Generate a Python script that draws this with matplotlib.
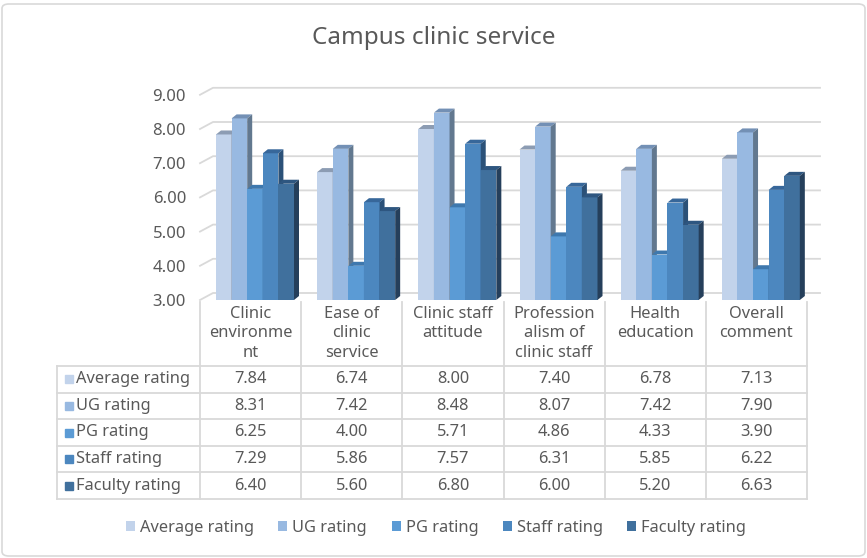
import matplotlib
matplotlib.use("Agg")
import matplotlib.pyplot as plt
from matplotlib.patches import Polygon, FancyBboxPatch, Patch
from matplotlib.transforms import blended_transform_factory
from matplotlib.lines import Line2D

# ---------------- data ----------------
categories = ["Clinic\nenvironme\nnt", "Ease of\nclinic\nservice", "Clinic staff\nattitude",
              "Profession\nalism of\nclinic staff", "Health\neducation", "Overall\ncomment"]
series_names = ["Average rating", "UG rating", "PG rating", "Staff rating", "Faculty rating"]
average_rating = [7.84, 6.74, 8.00, 7.40, 6.78, 7.13]
ug_rating = [8.31, 7.42, 8.48, 8.07, 7.42, 7.90]
pg_rating = [6.25, 4.00, 5.71, 4.86, 4.33, 3.90]
staff_rating = [7.29, 5.86, 7.57, 6.31, 5.85, 6.22]
faculty_rating = [6.40, 5.60, 6.80, 6.00, 5.20, 6.63]
series_values = [average_rating, ug_rating, pg_rating, staff_rating, faculty_rating]
y_ticks = [3, 4, 5, 6, 7, 8, 9]
title = "Campus clinic service"

front_colors = ["#C2D3EB", "#98B9E1", "#5B9BD5", "#4C87BF", "#40709D"]
top_colors = ["#8C9CB3", "#7390B5", "#3E78AE", "#37679A", "#2E5680"]
side_colors = ["#7888A0", "#62788F", "#2F5F8C", "#2B5178", "#253F5B"]

TEXT = "#595959"
GRID = "#D9D9D9"
FONT = "Noto Sans"
FS = 11.8

W, H = 867, 558
fig = plt.figure(figsize=(W / 100, H / 100), dpi=100)
plt.rcParams["font.family"] = [FONT, "DejaVu Sans"]

def fx(px):
    return px / W

def fy(py):
    return 1 - py / H

# front plane of plot area
ax_left, ax_right = 200, 807
ax_bottom, ax_top = 300, 94.8
ax = fig.add_axes([fx(ax_left), fy(ax_bottom), fx(ax_right - ax_left), (ax_bottom - ax_top) / H])
ax.set_xlim(0, len(categories))
ax.set_ylim(y_ticks[0], y_ticks[-1])
for s in ax.spines.values():
    s.set_visible(False)
ax.set_xticks([])
ax.set_yticks(y_ticks)
ax.set_yticklabels([f"{t:.2f}" for t in y_ticks], color=TEXT, fontsize=12)
ax.tick_params(axis="y", length=0, pad=10)
ax.patch.set_alpha(0)

pxx = (ax_right - ax_left) / len(categories)
pxy = (ax_bottom - ax_top) / (y_ticks[-1] - y_ticks[0])

# back-wall gridlines (oblique projection)
wall_dx, wall_dy = 13 / pxx, 7 / pxy
grid_end = (820 - ax_left) / pxx
for t in y_ticks:
    ax.plot([0, wall_dx, grid_end], [t, t + wall_dy, t + wall_dy], color=GRID,
            lw=1.3, clip_on=False, zorder=0.5)

# 3D bars
bw = 15.6 / pxx
start = 16 / pxx
ddx, ddy = 5 / pxx, 4 / pxy
base = y_ticks[0]
for i in range(len(categories)):
    for j, vals in enumerate(series_values):
        v = vals[i]
        x0 = i + start + j * bw
        z = 2 + i * 10 + j * 2
        ax.bar(x0, v - base, bottom=base, width=bw, align="edge", color=front_colors[j],
               lw=0, zorder=z)
        ax.add_patch(Polygon([(x0, v), (x0 + bw, v), (x0 + bw + ddx, v + ddy), (x0 + ddx, v + ddy)],
                             closed=True, facecolor=top_colors[j], lw=0, zorder=z + 0.5, clip_on=False))
        ax.add_patch(Polygon([(x0 + bw, base), (x0 + bw, v), (x0 + bw + ddx, v + ddy),
                              (x0 + bw + ddx, base + ddy)],
                             closed=True, facecolor=side_colors[j], lw=0, zorder=z + 0.5, clip_on=False))

# ---------------- data table ----------------
bt = blended_transform_factory(ax.transData, fig.transFigure)
tbl_left = 57
row_top = 366
row_h = 26.6
col_top = 302
n_rows = len(series_names)
tbl_bottom = row_top + n_rows * row_h
lw_t = 1.3
for i in range(len(categories) + 1):
    fig.add_artist(Line2D([i, i], [fy(col_top), fy(tbl_bottom)], transform=bt, color=GRID, lw=lw_t))
fig.add_artist(Line2D([fx(tbl_left), fx(tbl_left)], [fy(row_top), fy(tbl_bottom)],
                      transform=fig.transFigure, color=GRID, lw=lw_t))
for k in range(n_rows + 1):
    yy = fy(row_top + k * row_h)
    fig.add_artist(Line2D([fx(tbl_left), fx(ax_right)], [yy, yy],
                          transform=fig.transFigure, color=GRID, lw=lw_t))

for i, cat in enumerate(categories):
    fig.text(i + 0.5, fy(306), cat, transform=bt, ha="center", va="top", color=TEXT,
             fontsize=FS, linespacing=1.28)

for k, name in enumerate(series_names):
    yc = fy(row_top + (k + 0.5) * row_h)
    fig.add_artist(Line2D([fx(69)], [yc], transform=fig.transFigure, marker="s", markersize=6,
                          color=front_colors[k], lw=0))
    fig.text(fx(76), yc, name, ha="left", va="center", color=TEXT, fontsize=FS)
    for i in range(len(categories)):
        fig.text(i + 0.5, yc, f"{series_values[k][i]:.2f}", transform=bt, ha="center", va="center",
                 color=TEXT, fontsize=FS)

# legend
handles = [Patch(facecolor=c, edgecolor="none") for c in front_colors]
fig.legend(handles, series_names, loc="center", bbox_to_anchor=(fx(436), fy(528)), ncol=5,
           frameon=False, fontsize=FS, labelcolor=TEXT, handlelength=0.55, handleheight=0.55,
           handletextpad=0.3, columnspacing=1.5)

# title
fig.text(fx(434), fy(38), title, ha="center", va="center", color=TEXT, fontsize=17.5)

# chart border
fig.add_artist(FancyBboxPatch((fx(2), fy(556)), fx(863), (552) / H, boxstyle="round,pad=0,rounding_size=0.008",
                              transform=fig.transFigure, facecolor="none", edgecolor=GRID, lw=1.2))

fig.savefig("out.png", dpi=100)
